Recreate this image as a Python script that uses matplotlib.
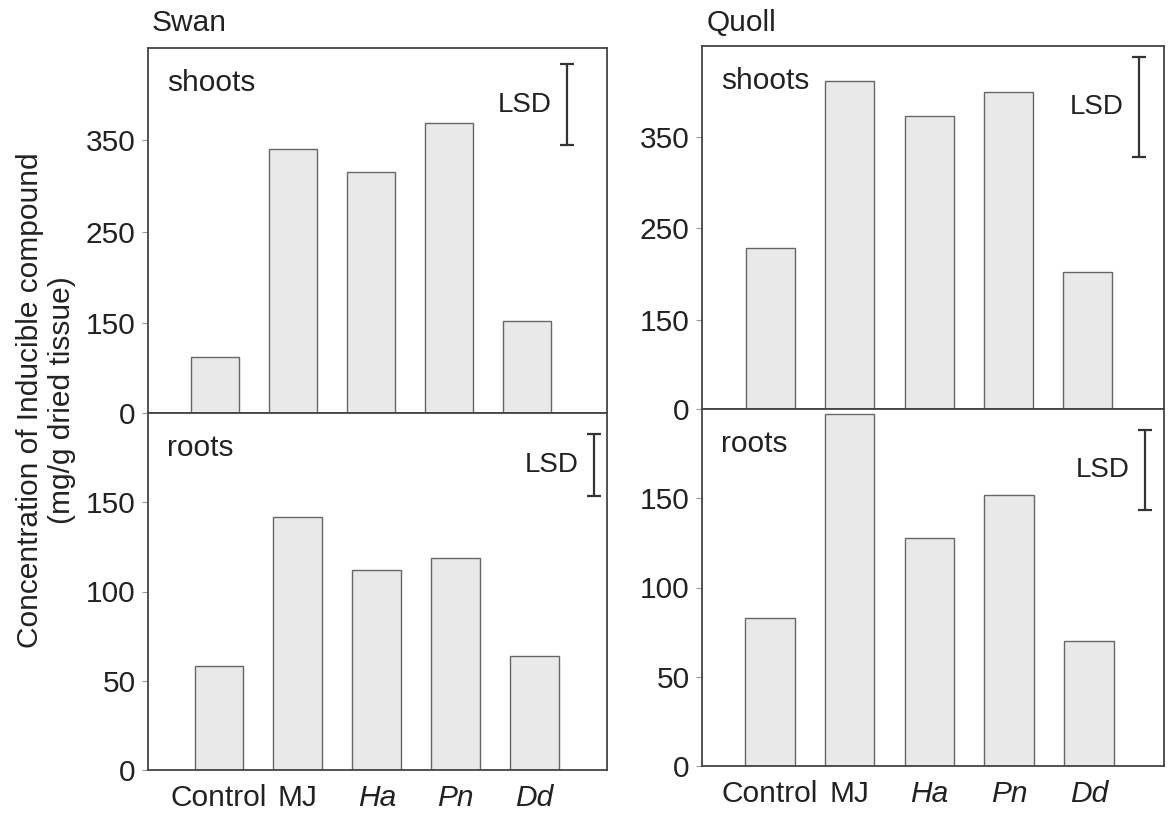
import numpy as np
import matplotlib
matplotlib.use("Agg")
import matplotlib.pyplot as plt

plt.rcParams['font.family'] = ['Liberation Sans', 'DejaVu Sans']

treatments = ["Control", "MJ", "Ha", "Pn", "Dd"]
italic_labels = [False, False, True, True, True]

swan_shoots = [113, 341, 315, 369, 153]
swan_roots = [58, 142, 112, 119, 64]
quoll_shoots = [229, 412, 373, 400, 202]
quoll_roots = [83, 197, 128, 152, 70]

# least significant difference (shoots, roots)
swan_lsd = [89, 35]
quoll_lsd = [110, 45]

shoot_ticks = [0, 150, 250, 350]
root_ticks = [0, 50, 100, 150]

W, H = 1171, 816
fig = plt.figure(figsize=(W / 100, H / 100), dpi=100)

TXT = '#222222'
FS = 21.5


def px_axes(left, top, right, bottom):
    return fig.add_axes([left / W, 1 - bottom / H, (right - left) / W, (bottom - top) / H])


# shoots axis is broken near zero: compress 0..60 into the band 52..60
def fwd(y):
    return np.interp(y, [0, 60, 1000], [52, 60, 1000])


def inv(y):
    return np.interp(y, [52, 60, 1000], [0, 60, 1000])


def style(ax, xlim, ticks, ylim, label, lsd, lsd_x, lsd_mid, show_x):
    x = np.arange(len(treatments))
    ax.set_xlim(*xlim)
    ax.set_ylim(*ylim)
    ax.set_yticks(ticks)
    ax.set_yticklabels([str(t) for t in ticks])
    ax.tick_params(axis='y', length=4, width=0.8, color='#999999', pad=5,
                   labelsize=FS, labelcolor=TXT)
    for s in ax.spines.values():
        s.set_color('#444444')
        s.set_linewidth(1.3)
    if show_x:
        ax.set_xticks(x)
        ax.set_xticklabels(treatments)
        for lab, it in zip(ax.get_xticklabels(), italic_labels):
            if it:
                lab.set_style('italic')
        ax.tick_params(axis='x', length=0, pad=10, labelsize=FS, labelcolor=TXT)
    else:
        ax.set_xticks([])
    ax.annotate(label, xy=(0, 1), xycoords='axes fraction', xytext=(14, -25),
                textcoords='offset points', ha='left', va='center',
                fontsize=FS, color=TXT)
    ax.errorbar([lsd_x], [lsd_mid], yerr=[lsd / 2], fmt='none', ecolor='#333333',
                elinewidth=1.6, capsize=5, capthick=1.6)
    ax.annotate("LSD", xy=(lsd_x, lsd_mid), xycoords='data', xytext=(-11, 0),
                textcoords='offset points', ha='right', va='center',
                fontsize=20, color=TXT)


def bars(ax, vals):
    ax.bar(np.arange(len(vals)), vals, width=0.62, color='#e9e9e9',
           edgecolor='#666666', linewidth=1.0)


# Swan
ax1 = px_axes(148, 48, 607, 413)
ax1.set_yscale('function', functions=(fwd, inv))
bars(ax1, swan_shoots)
style(ax1, (-0.86, 5.03), shoot_ticks, (0, 451), "shoots", swan_lsd[0], 4.52, 389, False)

ax2 = px_axes(148, 413, 607, 770)
bars(ax2, swan_roots)
style(ax2, (-0.9, 4.92), root_ticks, (0, 200), "roots", swan_lsd[1], 4.75, 171, True)

# Quoll
ax3 = px_axes(702, 46, 1164, 409)
ax3.set_yscale('function', functions=(fwd, inv))
bars(ax3, quoll_shoots)
style(ax3, (-0.87, 4.97), shoot_ticks, (0, 450), "shoots", quoll_lsd[0], 4.65, 383, False)

ax4 = px_axes(702, 409, 1164, 766)
bars(ax4, quoll_roots)
style(ax4, (-0.85, 4.94), root_ticks, (0, 200), "roots", quoll_lsd[1], 4.7, 166, True)

fig.text(152 / W, 1 - 23 / H, "Swan", ha='left', va='center', fontsize=FS, color=TXT)
fig.text(707 / W, 1 - 23 / H, "Quoll", ha='left', va='center', fontsize=FS, color=TXT)

fig.text(46 / W, 1 - 400 / H, "Concentration of Inducible compound\n(mg/g dried tissue)",
         rotation=90, ha='center', va='center', multialignment='center',
         fontsize=FS, color=TXT, linespacing=1.2)

fig.savefig("out.png", dpi=100)
